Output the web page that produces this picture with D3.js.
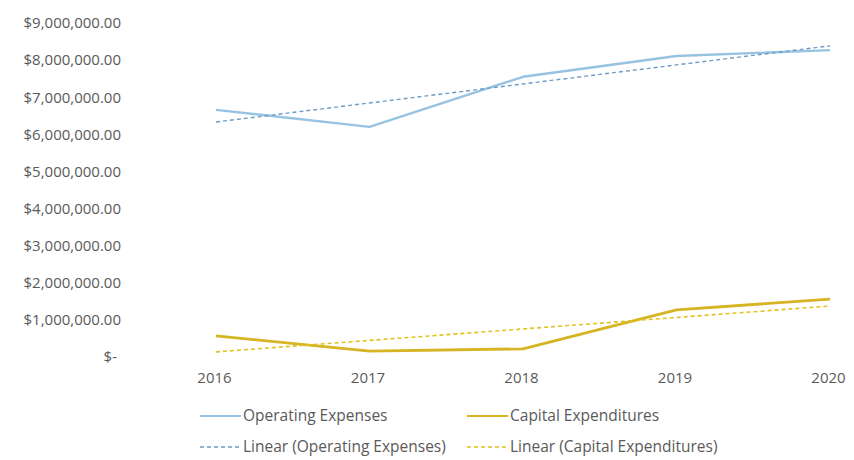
<!DOCTYPE html>
<html>
<head>
<meta charset="utf-8">
<script src="https://cdn.jsdelivr.net/npm/d3@7"></script>
<style>
  html, body { margin: 0; padding: 0; background: #fff; }
  svg { display: block; }
</style>
</head>
<body>
<svg id="chart" width="854" height="460"></svg>
<script>
// Chart data
const years = ['2016', '2017', '2018', '2019', '2020'];
const operatingExpenses = [6660000, 6200000, 7550000, 8110000, 8270000];
const capitalExpenditures = [570000, 160000, 220000, 1270000, 1560000];
const yTicks = [0, 1000000, 2000000, 3000000, 4000000, 5000000, 6000000, 7000000, 8000000, 9000000];

const color = {
  blue: '#97c3e3',
  blueTrend: '#6f9cc4',
  gold: '#d6b424',
  goldTrend: '#e0c21e',
  text: '#5a5a5a'
};

const font = '"Open Sans", sans-serif';

const svg = d3.select('#chart').style('font-family', font);

const x = d3.scalePoint().domain(years).range([216, 830]);
const y = d3.scaleLinear().domain([0, 9000000]).range([357, 23]);

// Least squares trend, the same thing Excel draws as "Linear (...)"
function linearTrend(values) {
  const n = values.length;
  const xs = d3.range(n);
  const mx = d3.mean(xs);
  const my = d3.mean(values);
  const slope = d3.sum(xs, i => (i - mx) * (values[i] - my)) / d3.sum(xs, i => (i - mx) ** 2);
  return xs.map(i => my + slope * (i - mx));
}

// Y axis: accounting style labels, no line
const formatMoney = v => (v === 0 ? '$-' : '$' + d3.format(',.2f')(v));

const yAxis = svg
  .append('g')
  .attr('class', 'axis y')
  .attr('transform', 'translate(121, 0)')
  .call(d3.axisLeft(y).tickValues(yTicks).tickFormat(formatMoney).tickSize(0).tickPadding(0));

yAxis.select('.domain').remove();
yAxis
  .selectAll('text')
  .attr('font-family', font)
  .attr('font-size', 15)
  .attr('fill', color.text)
  .attr('dx', d => (d === 0 ? -4 : 0));

// X axis: year labels only
const xAxis = svg
  .append('g')
  .attr('class', 'axis x')
  .attr('transform', 'translate(0, 372)')
  .call(d3.axisBottom(x).tickSize(0).tickPadding(0));

xAxis.select('.domain').remove();
xAxis
  .selectAll('text')
  .attr('font-family', font)
  .attr('font-size', 15)
  .attr('fill', color.text)
  .attr('dx', -2);

const line = d3
  .line()
  .x((d, i) => x(years[i]))
  .y(d => y(d));

const series = [
  { name: 'Operating Expenses', values: operatingExpenses, stroke: color.blue, width: 2.4, dash: null },
  { name: 'Capital Expenditures', values: capitalExpenditures, stroke: color.gold, width: 2.8, dash: null },
  { name: 'Linear (Operating Expenses)', values: linearTrend(operatingExpenses), stroke: color.blueTrend, width: 1.4, dash: '4,3' },
  { name: 'Linear (Capital Expenditures)', values: linearTrend(capitalExpenditures), stroke: color.goldTrend, width: 1.6, dash: '4,3' }
];

const canvas = svg.append('g').attr('class', 'canvas');

canvas
  .selectAll('path.series')
  .data(series)
  .join('path')
  .attr('class', 'series')
  .attr('fill', 'none')
  .attr('stroke', d => d.stroke)
  .attr('stroke-width', d => d.width)
  .attr('stroke-dasharray', d => d.dash)
  .attr('stroke-linejoin', 'round')
  .attr('d', d => line(d.values));

// Legend, two columns by two rows
const legendPos = [
  { x: 200, y: 416 },
  { x: 467, y: 416 },
  { x: 200, y: 447 },
  { x: 467, y: 447 }
];

const legend = svg
  .append('g')
  .attr('class', 'legend')
  .selectAll('g')
  .data(series)
  .join('g')
  .attr('transform', (d, i) => `translate(${legendPos[i].x}, ${legendPos[i].y})`);

legend
  .append('line')
  .attr('x1', 0)
  .attr('x2', 41)
  .attr('stroke', d => d.stroke)
  .attr('stroke-width', d => Math.min(d.width, 2.2))
  .attr('stroke-dasharray', d => d.dash);

legend
  .append('text')
  .attr('x', 43)
  .attr('dy', '0.35em')
  .attr('font-size', 15.5)
  .attr('fill', color.text)
  .text(d => d.name);
</script>
</body>
</html>
